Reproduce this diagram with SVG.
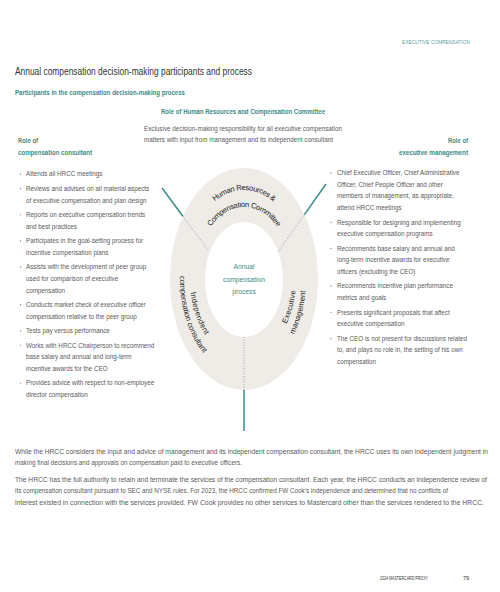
<svg xmlns="http://www.w3.org/2000/svg" width="500" height="592" viewBox="0 0 500 592">
<style>
text{font-family:"Liberation Sans",Arial,sans-serif}
.b{font-size:7.5px;fill:#5a5a5a}
.h{font-size:7.5px;font-weight:bold;fill:#3b8b87}
.r{font-size:7.6px;fill:#222;text-anchor:middle}
.c{font-size:8px;fill:#3b8b87;text-anchor:middle}
.teal{stroke:#3b8b87;stroke-width:1.5;fill:none}
.dot{stroke:#8a8a8a;stroke-width:0.8;stroke-dasharray:1 1.6;fill:none}
.bul{fill:#8a8a8a}
</style>
<defs>
<path id="pTop1" d="M184,279 A60,89 0 0 1 304,279"/>
<path id="pTop2" d="M195.5,279 A48.5,72 0 0 1 292.5,279"/>
<path id="pL1" d="M244,198.5 A54,80.5 0 0 0 244,359.5"/>
<path id="pL2" d="M244,183.4 A64,95.6 0 0 0 244,374.6"/>
<path id="pR1" d="M244,357 A52,78 0 0 0 244,201"/>
<path id="pR2" d="M244,372.5 A62,93.5 0 0 0 244,185.5"/>
</defs>

<text x="470" y="44" text-anchor="end" style="font-size:5.6px;fill:#5f9f9c" textLength="68" lengthAdjust="spacingAndGlyphs">EXECUTIVE COMPENSATION</text>
<text x="15" y="74.5" style="font-size:10.3px;fill:#333" textLength="237" lengthAdjust="spacingAndGlyphs">Annual compensation decision-making participants and process</text>
<text x="15" y="94.5" class="h" textLength="170" lengthAdjust="spacingAndGlyphs">Participants in the compensation decision-making process</text>

<g id="hrcc-role">
<text x="161" y="113.5" class="h" textLength="164" lengthAdjust="spacingAndGlyphs">Role of Human Resources and Compensation Committee</text>
<g transform="translate(144 0) scale(0.84 1)">
<text x="0" y="131" class="b">Exclusive decision-making responsibility for all executive compensation</text>
<text x="0" y="142.5" class="b">matters with input from management and its independent consultant</text>
</g>
</g>

<g id="consultant-role">
<text x="18" y="142.5" class="h" textLength="20" lengthAdjust="spacingAndGlyphs">Role of</text>
<text x="18" y="154.5" class="h" textLength="74" lengthAdjust="spacingAndGlyphs">compensation consultant</text>
<g class="bul">
<circle cx="20.5" cy="174.3" r="0.7"/><circle cx="20.5" cy="188.75" r="0.7"/><circle cx="20.5" cy="214.85" r="0.7"/><circle cx="20.5" cy="240.95" r="0.7"/><circle cx="20.5" cy="267.05" r="0.7"/><circle cx="20.5" cy="304.8" r="0.7"/><circle cx="20.5" cy="330.9" r="0.7"/><circle cx="20.5" cy="345.35" r="0.7"/><circle cx="20.5" cy="383.1" r="0.7"/>
</g>
<g transform="translate(26 0) scale(0.84 1)" class="b">
<text x="0" y="176.5">Attends all HRCC meetings</text>
<text x="0" y="190.95">Reviews and advises on all material aspects</text>
<text x="0" y="202.6">of executive compensation and plan design</text>
<text x="0" y="217.05">Reports on executive compensation trends</text>
<text x="0" y="228.7">and best practices</text>
<text x="0" y="243.15">Participates in the goal-setting process for</text>
<text x="0" y="254.8">incentive compensation plans</text>
<text x="0" y="269.25">Assists with the development of peer group</text>
<text x="0" y="280.9">used for comparison of executive</text>
<text x="0" y="292.55">compensation</text>
<text x="0" y="307">Conducts market check of executive officer</text>
<text x="0" y="318.65">compensation relative to the peer group</text>
<text x="0" y="333.1">Tests pay versus performance</text>
<text x="0" y="347.55">Works with HRCC Chairperson to recommend</text>
<text x="0" y="359.2">base salary and annual and long-term</text>
<text x="0" y="370.85">incentive awards for the CEO</text>
<text x="0" y="385.3">Provides advice with respect to non-employee</text>
<text x="0" y="396.95">director compensation</text>
</g>
</g>

<g id="management-role">
<text x="468" y="142.5" class="h" text-anchor="end" textLength="20" lengthAdjust="spacingAndGlyphs">Role of</text>
<text x="468" y="154.5" class="h" text-anchor="end" textLength="69" lengthAdjust="spacingAndGlyphs">executive management</text>
<g class="bul">
<circle cx="331" cy="173" r="0.7"/><circle cx="331" cy="222.4" r="0.7"/><circle cx="331" cy="248.5" r="0.7"/><circle cx="331" cy="286.25" r="0.7"/><circle cx="331" cy="312.35" r="0.7"/><circle cx="331" cy="338.45" r="0.7"/>
</g>
<g transform="translate(337 0) scale(0.84 1)" class="b">
<text x="0" y="175.2">Chief Executive Officer, Chief Administrative</text>
<text x="0" y="186.85">Officer, Chief People Officer and other</text>
<text x="0" y="198.5">members of management, as appropriate,</text>
<text x="0" y="210.15">attend HRCC meetings</text>
<text x="0" y="224.6">Responsible for designing and implementing</text>
<text x="0" y="236.25">executive compensation programs</text>
<text x="0" y="250.7">Recommends base salary and annual and</text>
<text x="0" y="262.35">long-term incentive awards for executive</text>
<text x="0" y="274">officers (excluding the CEO)</text>
<text x="0" y="288.45">Recommends incentive plan performance</text>
<text x="0" y="300.1">metrics and goals</text>
<text x="0" y="314.55">Presents significant proposals that affect</text>
<text x="0" y="326.2">executive compensation</text>
<text x="0" y="340.65">The CEO is not present for discussions related</text>
<text x="0" y="352.3">to, and plays no role in, the setting of his own</text>
<text x="0" y="363.95">compensation</text>
</g>
</g>

<g id="ring">
<ellipse cx="244" cy="279" rx="74" ry="111" fill="#efece7"/>
<ellipse cx="244" cy="279.5" rx="39" ry="57.5" fill="#ffffff"/>
</g>

<g id="connectors">
<line x1="162" y1="188" x2="182.9" y2="216.2" class="teal"/>
<line x1="182.9" y1="216.2" x2="208" y2="250" class="dot"/>
<line x1="326" y1="184" x2="304.4" y2="214.6" class="teal"/>
<line x1="304.4" y1="214.6" x2="278" y2="252" class="dot"/>
<line x1="244" y1="337" x2="244" y2="390" class="dot"/>
<line x1="244" y1="390" x2="244" y2="431" class="teal"/>
</g>

<g id="node-hrcc">
<text class="r" letter-spacing="-0.35"><textPath href="#pTop1" startOffset="50%">Human Resources &amp;</textPath><textPath href="#pTop2" startOffset="50%">Compensation Committee</textPath></text>
</g>
<g id="node-consultant">
<text class="r"><textPath href="#pL1" startOffset="67%" letter-spacing="0.3">Independent</textPath><textPath href="#pL2" startOffset="65%" letter-spacing="-0.1">compensation consultant</textPath></text>
</g>
<g id="node-management">
<text class="r"><textPath href="#pR1" startOffset="36%" letter-spacing="0.2">Executive</textPath><textPath href="#pR2" startOffset="36%" letter-spacing="0.1">management</textPath></text>
</g>
<g id="node-process" transform="translate(244 0) scale(0.84 1)">
<text x="0" y="269.5" class="c">Annual</text>
<text x="0" y="282" class="c">compensation</text>
<text x="0" y="294.5" class="c">process</text>
</g>

<g id="notes" transform="translate(15 0) scale(0.9 1)" class="b">
<text x="0" y="454" textLength="525.6" lengthAdjust="spacingAndGlyphs">While the HRCC considers the input and advice of management and its independent compensation consultant, the HRCC uses its own independent judgment in</text>
<text x="0" y="465.5" textLength="252.2" lengthAdjust="spacingAndGlyphs">making final decisions and approvals on compensation paid to executive officers.</text>
<text x="0" y="482" textLength="524.4" lengthAdjust="spacingAndGlyphs">The HRCC has the full authority to retain and terminate the services of the compensation consultant. Each year, the HRCC conducts an independence review of</text>
<text x="0" y="493.5" textLength="481.1" lengthAdjust="spacingAndGlyphs">its compensation consultant pursuant to SEC and NYSE rules. For 2023, the HRCC confirmed FW Cook’s independence and determined that no conflicts of</text>
<text x="0" y="505" textLength="521.1" lengthAdjust="spacingAndGlyphs">interest existed in connection with the services provided. FW Cook provides no other services to Mastercard other than the services rendered to the HRCC.</text>
</g>

<text x="380" y="580" style="font-size:5.6px;fill:#333" textLength="48" lengthAdjust="spacingAndGlyphs">2024 MASTERCARD PROXY</text>
<text x="463" y="580" style="font-size:5.6px;fill:#333">79</text>
</svg>
